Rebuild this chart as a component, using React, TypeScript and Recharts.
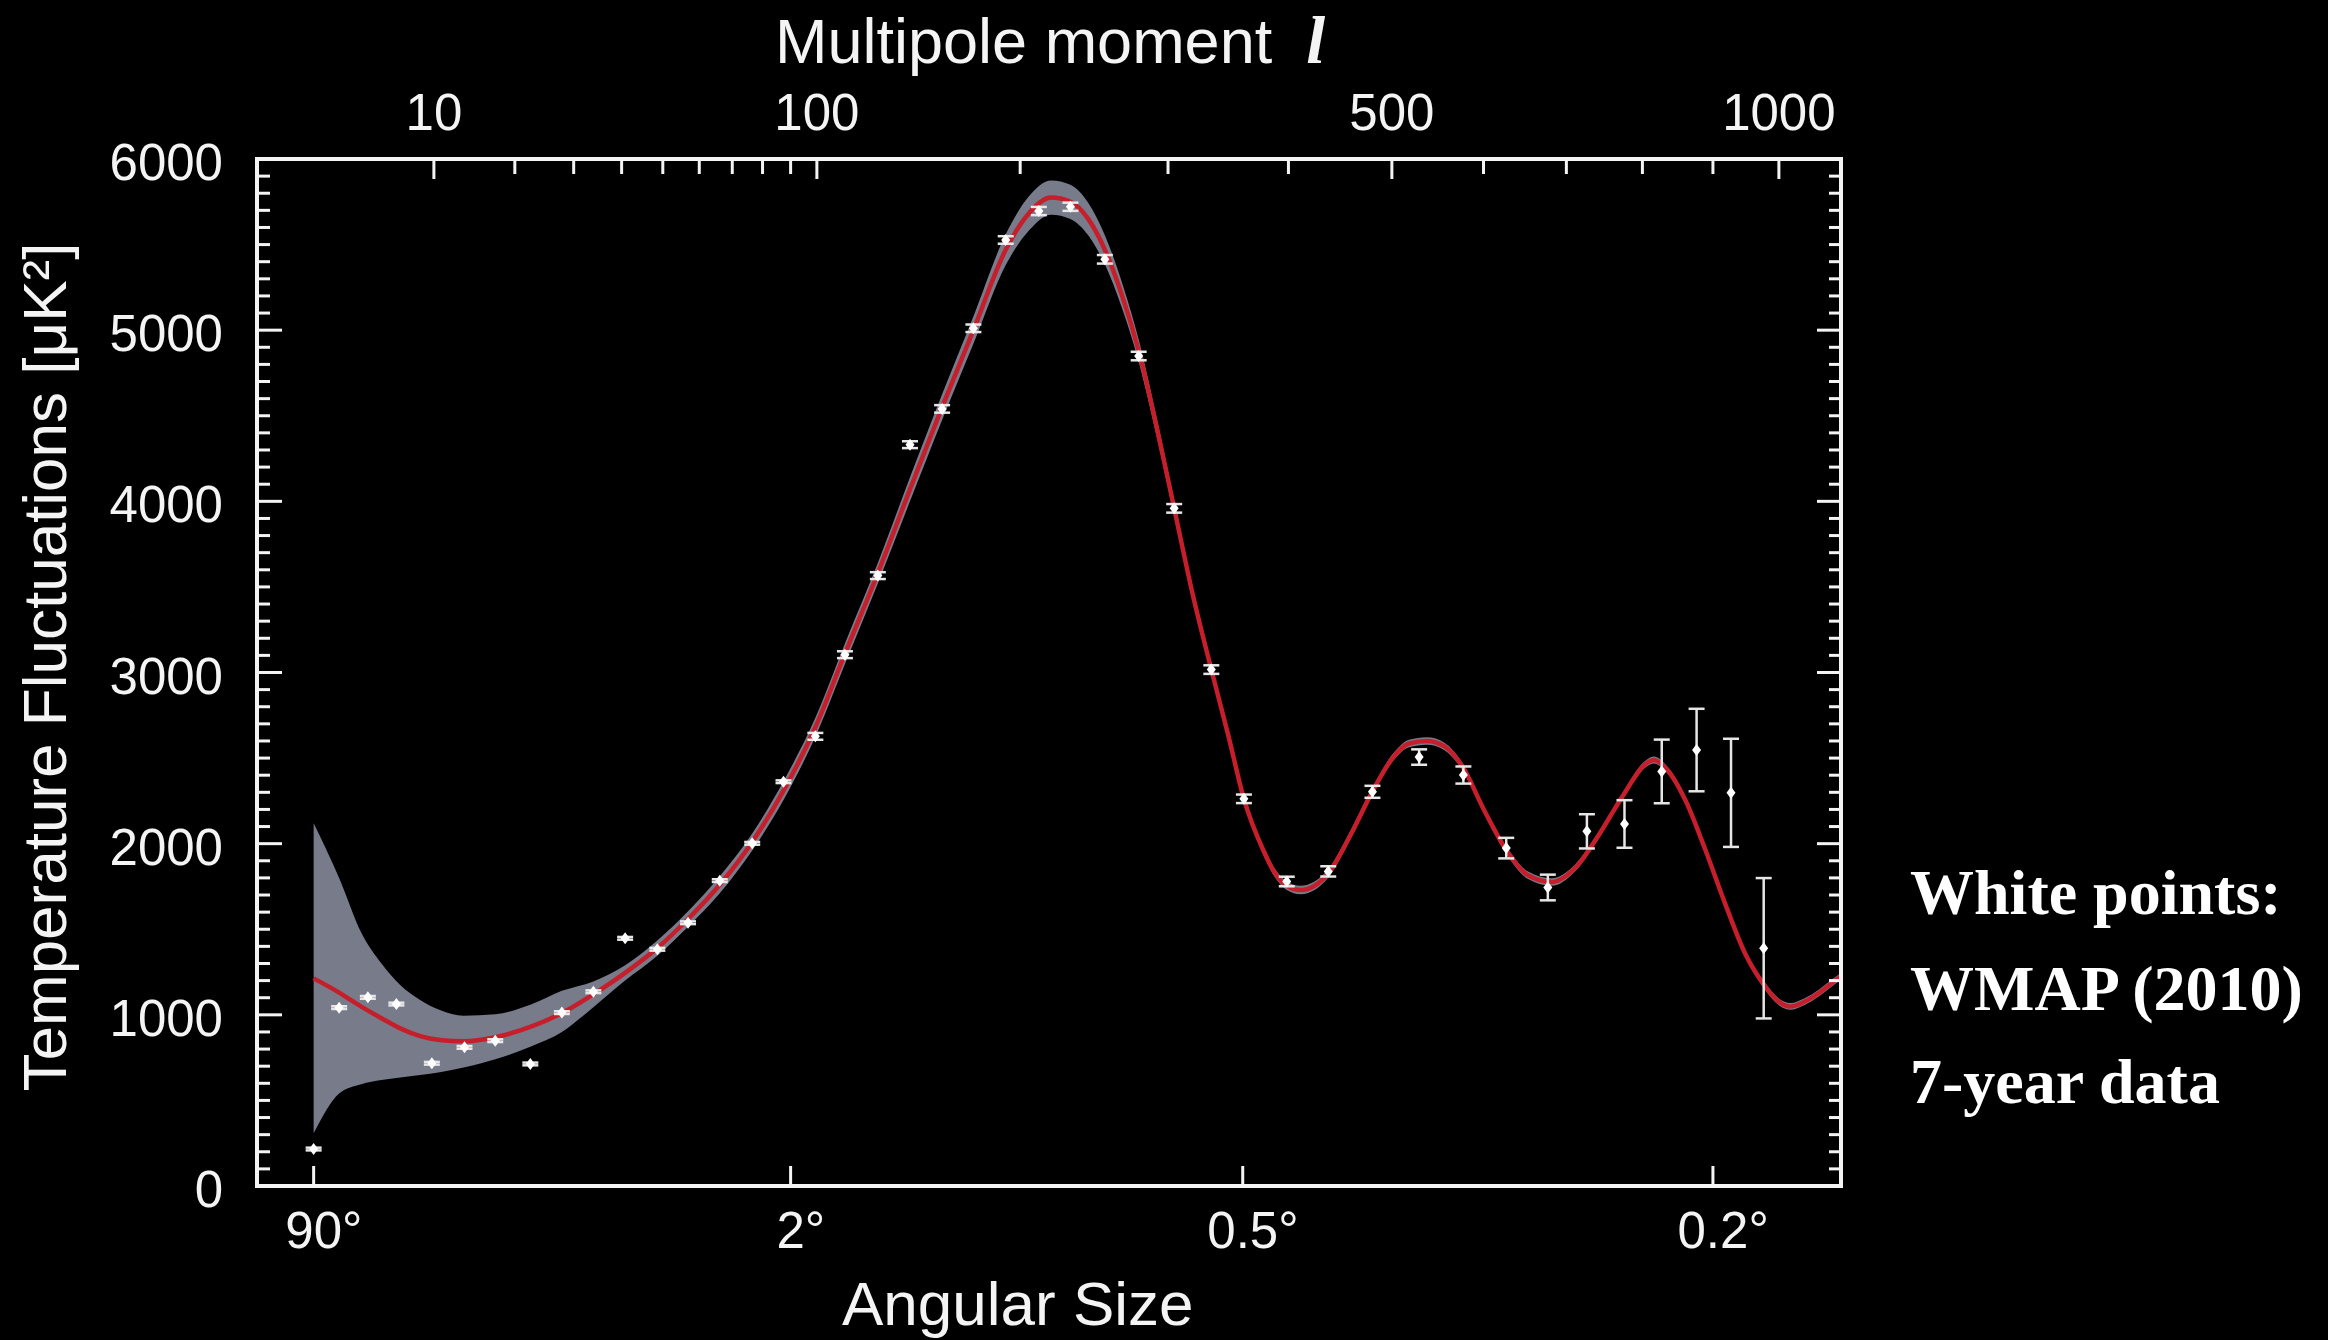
import { ComposedChart, Line, Area, Scatter, ErrorBar, XAxis, YAxis } from 'recharts';

// Best-fit model curve, sampled in multipole moment l, with its uncertainty band
const curveL = [
  2, 3.1, 4.3, 5.6, 7, 8.7, 10.6, 13.2, 17.2, 22.5, 27.8, 33.9, 40.8, 48.6, 56.8, 66.1, 76.5, 87.4,
  99.4, 111.4, 125.7, 140.7, 156.7, 173.3, 191.5, 205, 219, 231.3, 243, 254.3, 266, 278.2, 291, 304.7,
  319, 334, 348, 361, 377.6, 388, 398.5, 411, 424, 437, 458, 480, 501.5, 518, 537, 556, 577, 600,
  626.5, 652, 681.5, 711, 741, 773, 805, 816, 832, 860, 889, 918, 948, 978, 1000, 1018, 1040, 1064,
  1087, 1100,
];
const curveD = [
  1213, 1130, 1048, 980, 921, 876, 853, 845, 869, 931, 1010, 1120, 1245, 1390, 1560, 1760, 2010, 2310,
  2680, 3110, 3580, 4070, 4550, 5000, 5470, 5680, 5775, 5750, 5650, 5470, 5210, 4880, 4450, 3960,
  3460, 3017, 2630, 2262, 1963, 1827, 1754, 1729, 1754, 1827, 2046, 2303, 2506, 2585, 2600, 2568, 2443, 2203,
  1963, 1817, 1776, 1858, 2046, 2276, 2468, 2489, 2443, 2255, 1963, 1650, 1358, 1170, 1076, 1049, 1076, 1128,
  1192, 1225,
];
const bandLo = [
  308, 540, 595, 619, 634, 648, 665, 692, 740, 815, 900, 1045, 1200, 1345, 1515, 1710, 1960, 2255,
  2625, 3050, 3520, 4000, 4475, 4920, 5380, 5580, 5675, 5650, 5555, 5385, 5135, 4815, 4395, 3915,
  3420, 2982, 2605, 2237, 1938, 1802, 1729, 1704, 1729, 1802, 2021, 2281, 2484, 2563, 2578, 2546, 2421, 2181,
  1941, 1795, 1754, 1838, 2026, 2256, 2448, 2469, 2423, 2235, 1943, 1630, 1338, 1150, 1056, 1029, 1056, 1108,
  1172, 1205,
];
const bandHi = [
  2119, 1800, 1480, 1300, 1175, 1087, 1028, 995, 1003, 1060, 1140, 1195, 1290, 1435, 1605, 1810, 2060, 2365,
  2735, 3170, 3640, 4140, 4625, 5080, 5560, 5780, 5875, 5850, 5745, 5555, 5285, 4945, 4505, 4005,
  3500, 3052, 2655, 2287, 1988, 1852, 1779, 1754, 1779, 1852, 2071, 2325, 2528, 2607, 2622, 2590, 2465, 2225,
  1985, 1839, 1798, 1878, 2066, 2296, 2488, 2509, 2463, 2275, 1983, 1670, 1378, 1190, 1096, 1069, 1096, 1148,
  1212, 1245,
];

// WMAP 7-year binned band powers
const pointL = [
  2, 3.1, 4.7, 6.7, 9.8, 13.3, 17.2, 22.4, 27.8, 33.9, 40.8, 48.6, 56.8, 66.1, 76.5, 87.4,
  99.4, 111.4, 125.7, 140.7, 156.7, 173.3, 191.5, 211.3, 231.3, 254.3, 278.2, 304.7, 334, 361,
  398.5, 436.9, 480.2, 528.6, 577.1, 626.5, 676.8, 726.2, 775.7, 826.7, 876.2, 926.8, 976.4,
];
const pointD = [
  216, 1042, 1102, 1063, 717, 810, 849, 713, 1013, 1135, 1447, 1383, 1538, 1784, 2002, 2362,
  2627, 3104, 3566, 4331, 4540, 5011, 5527, 5696, 5721, 5414, 4849, 3959, 3017, 2262,
  1779, 1838, 2303, 2506, 2401, 1974, 1744, 2072, 2115, 2422, 2547, 2297, 1389,
];
const pointErr = [
  8, 8, 8, 8, 8, 8, 8, 8, 8, 8, 8, 8, 8, 8, 8, 8,
  20, 20, 20, 20, 22, 22, 22, 24, 24, 25, 25, 25, 25, 25,
  28, 30, 35, 45, 50, 60, 75, 100, 139, 186, 241, 316, 410,
];

// axis ticks
const topTickL = [10, 20, 30, 40, 50, 60, 70, 80, 90, 100, 200, 300, 400, 500, 600, 700, 800, 900, 1000];
const topLabelL = [10, 100, 500, 1000];
const bottomTickL = [2, 90, 360, 900];
const bottomLabels = ['90', '2', '0.5', '0.2'];
const yTicks = Array.from({ length: 61 }, (_, i) => i * 100);

// the horizontal axis is linear in l^0.4
const POW = 0.4;
const toU = (l: number) => Math.pow(l, POW);
const fromU = (u: number) => Math.round(Math.pow(u, 1 / POW));
const U_DOMAIN: [number, number] = [toU(0.5), toU(1100)];

const curveRows = curveL.map((l, i) => ({ u: toU(l), d: curveD[i], band: [bandLo[i], bandHi[i]] }));
const pointRows = pointL.map((l, i) => ({ u: toU(l), d: pointD[i], err: pointErr[i] }));

const SANS = '"Liberation Sans", Arial, Helvetica, sans-serif';
const SERIF = '"Liberation Serif", "Times New Roman", serif';
const WHITE = '#f4f4f4';
const TICK_FS = 51;

const numWidth = (s: string) => [...s].reduce((w, c) => w + (c === '.' ? 0.278 : 0.556) * TICK_FS, 0);

const LeftTick = ({ x, y, payload }: any) => {
  const v = payload.value;
  const major = v % 1000 === 0;
  return (
    <g>
      <line x1={x} x2={x + (major ? 25 : 13)} y1={y} y2={y} stroke={WHITE} strokeWidth={3} />
      {major && (
        <text x={x - 34} y={y + 21} textAnchor="end" fill={WHITE} fontSize={TICK_FS} fontFamily={SANS}>
          {v}
        </text>
      )}
    </g>
  );
};

const RightTick = ({ x, y, payload }: any) => {
  const major = payload.value % 1000 === 0;
  return <line x1={x - (major ? 24 : 12)} x2={x} y1={y} y2={y} stroke={WHITE} strokeWidth={3} />;
};

const TopTick = ({ x, y, payload }: any) => {
  const l = fromU(payload.value);
  const major = topLabelL.includes(l);
  return (
    <g>
      <line x1={x} x2={x} y1={y} y2={y + (major ? 20 : 15)} stroke={WHITE} strokeWidth={3} />
      {major && (
        <text x={x} y={y - 29} textAnchor="middle" fill={WHITE} fontSize={TICK_FS} fontFamily={SANS}>
          {l}
        </text>
      )}
    </g>
  );
};

const BottomTick = ({ x, y, payload }: any) => {
  const idx = bottomTickL.indexOf(fromU(payload.value));
  const label = bottomLabels[idx] ?? '';
  return (
    <g>
      <line x1={x} x2={x} y1={y} y2={y - 20} stroke={WHITE} strokeWidth={3} />
      <text x={x - numWidth(label) / 2} y={y + 62} textAnchor="start" fill={WHITE} fontSize={TICK_FS} fontFamily={SANS}>
        {label}°
      </text>
    </g>
  );
};

const Diamond = (props: any) => {
  const { cx, cy } = props;
  if (cx == null || cy == null) return null;
  return <path d={`M${cx},${cy - 6}L${cx + 4.5},${cy}L${cx},${cy + 6}L${cx - 4.5},${cy}Z`} fill="#ffffff" />;
};

const frame = { stroke: WHITE, strokeWidth: 4, strokeLinecap: 'square' as const };

export default function App() {
  return (
    <div style={{ position: 'absolute', left: 0, top: 0, width: 2328, height: 1340, background: '#000', overflow: 'hidden' }}>
      <ComposedChart width={2328} height={1340} margin={{ top: 59, right: 477, bottom: 54, left: 57 }}>
        <XAxis
          xAxisId="top"
          orientation="top"
          type="number"
          dataKey="u"
          domain={U_DOMAIN}
          allowDataOverflow
          ticks={topTickL.map(toU)}
          interval={0}
          height={100}
          tickSize={0}
          tickMargin={0}
          tickLine={false}
          axisLine={frame}
          tick={TopTick}
        />
        <XAxis
          xAxisId="bottom"
          orientation="bottom"
          type="number"
          dataKey="u"
          domain={U_DOMAIN}
          allowDataOverflow
          ticks={bottomTickL.map(toU)}
          interval={0}
          height={100}
          tickSize={0}
          tickMargin={0}
          tickLine={false}
          axisLine={frame}
          tick={BottomTick}
        />
        <YAxis
          yAxisId="left"
          orientation="left"
          type="number"
          domain={[0, 6000]}
          allowDataOverflow
          ticks={yTicks}
          interval={0}
          width={200}
          tickSize={0}
          tickMargin={0}
          tickLine={false}
          axisLine={frame}
          tick={LeftTick}
        />
        <YAxis
          yAxisId="right"
          orientation="right"
          type="number"
          domain={[0, 6000]}
          allowDataOverflow
          ticks={yTicks}
          interval={0}
          width={10}
          tickSize={0}
          tickMargin={0}
          tickLine={false}
          axisLine={frame}
          tick={RightTick}
        />
        <Area
          data={curveRows}
          xAxisId="top"
          yAxisId="right"
          dataKey="band"
          type="monotone"
          fill="#777b8a"
          fillOpacity={1}
          stroke="none"
          isAnimationActive={false}
        />
        <Line
          data={curveRows}
          xAxisId="bottom"
          yAxisId="left"
          dataKey="d"
          type="monotone"
          stroke="#c61f2b"
          strokeWidth={4.5}
          dot={false}
          isAnimationActive={false}
        />
        <Scatter
          data={pointRows}
          xAxisId="bottom"
          yAxisId="left"
          dataKey="d"
          shape={Diamond}
          isAnimationActive={false}
        >
          <ErrorBar dataKey="err" direction="y" width={8} stroke="#e6e6e6" strokeWidth={2.5} isAnimationActive={false} />
        </Scatter>
      </ComposedChart>
      <svg width={2328} height={1340} style={{ position: 'absolute', left: 0, top: 0, pointerEvents: 'none' }}>
        <text x={775} y={63} fill={WHITE} fontSize={63} fontFamily={SANS}>
          Multipole moment
          <tspan dx={34} fontFamily={SERIF} fontStyle="italic" fontWeight="bold" fontSize={68}>l</tspan>
        </text>
        <text x={842} y={1325} fill={WHITE} fontSize={62} fontFamily={SANS}>
          Angular Size
        </text>
        <text transform="translate(66,667) rotate(-90)" textAnchor="middle" fill={WHITE} fontSize={62} fontFamily={SANS}>
          Temperature Fluctuations [μK²]
        </text>
        <g fill="#ffffff" fontFamily={SERIF} fontWeight="bold" fontSize={64}>
          <text x={1910} y={914}>White points:</text>
          <text x={1910} y={1010}>WMAP (2010)</text>
          <text x={1910} y={1103}>7-year data</text>
        </g>
      </svg>
    </div>
  );
}
